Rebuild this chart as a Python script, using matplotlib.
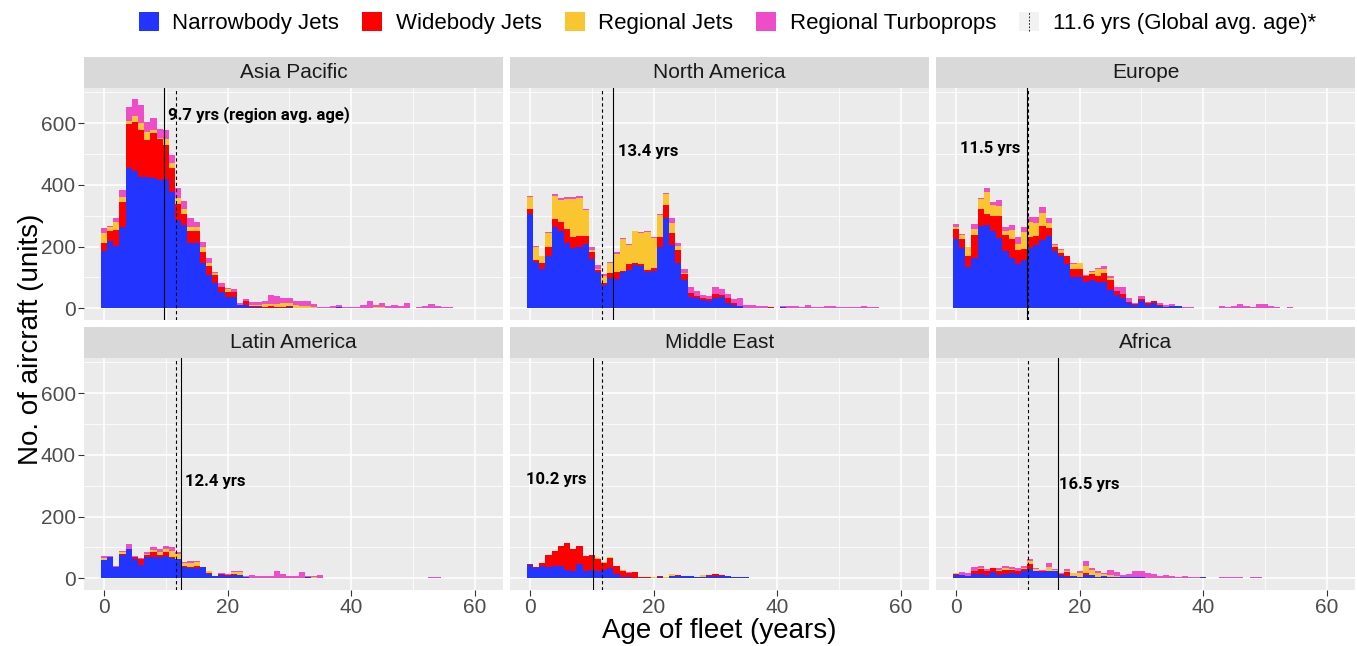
import numpy as np
import matplotlib.pyplot as plt
from matplotlib.patches import Rectangle, Patch
from matplotlib.lines import Line2D
from matplotlib.legend_handler import HandlerBase

plt.rcParams['font.family'] = ['Liberation Sans', 'DejaVu Sans']

# datos ---------------------------------------------------------------
regiones = ['Asia Pacific', 'North America', 'Europe',
            'Latin America', 'Middle East', 'Africa']
categorias = ['Narrowbody Jets', 'Widebody Jets', 'Regional Jets', 'Regional Turboprops']
colores = ['#2234FF', '#FF0000', '#F9C631', '#EE4CC9']
edad_region = [9.7, 13.4, 11.5, 12.4, 10.2, 16.5]
edad_global = 11.6
etiquetas = ['9.7 yrs (region avg. age)', '13.4 yrs', '11.5 yrs',
             '12.4 yrs', '10.2 yrs', '16.5 yrs']

# Asia Pacific
ap_narrow = [185, 218, 203, 265, 456, 445, 426, 426, 423, 416, 418, 378, 286, 270, 211, 211, 146, 108, 81, 54,
             36, 36, 11, 11, 3, 3, 2, 2, 2, 2, 3, 0, 0, 0, 0, 0, 0, 0, 3]
ap_wide = [26, 31, 51, 78, 141, 160, 152, 120, 145, 132, 110, 78, 51, 36, 41, 38, 38, 29, 27, 16,
           18, 18, 0, 13, 5, 5, 3, 5, 3, 3, 3]
ap_regjet = [32, 14, 27, 19, 11, 19, 24, 25, 10, 3, 21, 16, 20, 16, 13, 16, 14, 9, 6, 0,
             8, 0, 0, 0, 3, 3, 8, 8, 10, 12, 12, 10, 7, 7, 3, 0, 0, 0, 0, 0, 0, 0, 0, 0, 3, 5]
ap_turbo = [16, 4, 13, 22, 43, 54, 57, 33, 40, 30, 29, 25, 34, 26, 29, 16, 18, 16, 5, 11,
            5, 8, 5, 5, 8, 8, 12, 28, 25, 15, 14, 12, 15, 15, 10, 3, 3, 8, 8, 3,
            3, 3, 11, 25, 8, 11, 8, 11, 8, 16, 0, 3, 8, 13, 8, 3, 3]

# North America
na_narrow = [306, 151, 126, 168, 263, 252, 211, 195, 200, 209, 159, 119, 76, 97, 94, 116, 124, 141, 137, 119,
             122, 200, 292, 205, 146, 92, 38, 32, 27, 24, 32, 36, 16, 11, 8, 0, 0, 0, 0, 0, 0, 3]
na_wide = [15, 5, 20, 32, 26, 29, 45, 37, 35, 26, 25, 5, 5, 17, 22, 5, 20, 5, 7, 5,
           8, 32, 43, 38, 43, 19, 11, 8, 5, 5, 14, 7, 16, 5, 0, 0, 0, 0, 0, 5]
na_regjet = [41, 43, 22, 43, 75, 71, 98, 122, 124, 82, 5, 2, 22, 32, 60, 104, 61, 103, 101, 122,
             99, 71, 35, 35, 14, 3]
na_turbo = [2, 4, 3, 5, 6, 4, 6, 6, 5, 4, 11, 15, 7, 5, 5, 4, 4, 3, 3, 3,
            3, 3, 3, 14, 8, 14, 19, 16, 11, 12, 22, 19, 13, 13, 24, 11, 11, 8, 8, 0,
            0, 5, 8, 8, 3, 11, 3, 3, 8, 8, 3, 3, 3, 3, 8, 3, 3]

# Europe
eu_narrow = [225, 195, 135, 162, 268, 270, 252, 227, 187, 162, 143, 157, 195, 205, 222, 235, 187, 168, 143, 101,
             101, 84, 92, 86, 84, 59, 43, 32, 16, 11, 24, 11, 16, 8, 5, 8, 8]
eu_wide = [31, 30, 36, 74, 54, 36, 48, 73, 49, 63, 46, 35, 37, 29, 45, 24, 13, 12, 25, 26,
           26, 19, 19, 17, 30, 33, 13, 14, 3, 2, 5, 5, 8, 3]
eu_regjet = [9, 11, 26, 21, 32, 72, 35, 30, 15, 29, 19, 54, 49, 44, 43, 19, 5, 8, 0, 17,
             19, 2, 8, 24, 13, 5, 0, 0, 0, 0, 0, 0, 0, 0, 0, 0, 0, 0, 0, 0,
             0, 0, 0, 0, 0, 0, 2, 2]
eu_turbo = [7, 4, 3, 16, 3, 11, 11, 21, 14, 16, 22, 19, 16, 17, 18, 16, 3, 3, 3, 2,
            0, 3, 2, 3, 10, 8, 14, 22, 13, 3, 11, 3, 0, 7, 6, 5, 0, 3, 3, 0,
            0, 0, 0, 8, 3, 8, 11, 6, 3, 13, 13, 8, 3, 0, 3]

# Latin America
la_narrow = [60, 68, 36, 74, 96, 63, 43, 68, 68, 68, 72, 65, 63, 38, 33, 33, 36, 14, 7, 11,
             9, 11, 11, 3, 0, 0, 0, 0, 0, 0, 0, 0, 0, 3, 2, 0, 0, 0, 2, 2]
la_wide = [0, 0, 0, 4, 0, 5, 20, 8, 17, 8, 13, 3, 0, 3, 3, 8, 0, 2, 2, 3,
           2, 3, 0, 0, 2]
la_regjet = [5, 0, 0, 6, 0, 0, 0, 4, 7, 9, 11, 19, 16, 8, 14, 11, 0, 6, 0, 0,
             0, 6, 9, 2, 0, 0, 0, 0, 0, 0, 0, 0, 0, 0, 3]
la_turbo = [6, 4, 3, 6, 15, 4, 2, 5, 9, 11, 8, 14, 6, 5, 7, 5, 2, 2, 0, 2,
            3, 5, 2, 4, 9, 7, 9, 9, 22, 14, 7, 7, 20, 6, 2, 12, 2, 2, 0, 0,
            2, 2, 2, 2, 2, 2, 2, 2, 2, 2, 2, 0, 0, 5, 5, 2]

# Middle East
me_narrow = [43, 33, 39, 36, 39, 41, 27, 23, 47, 25, 28, 22, 28, 33, 14, 3, 3, 2, 0, 0,
             0, 3, 0, 9, 9, 7, 7, 3, 5, 9, 9, 7, 7, 5, 3, 3, 2, 2, 2, 2]
me_wide = [3, 3, 10, 38, 49, 65, 87, 73, 59, 47, 48, 41, 22, 33, 25, 19, 14, 18, 3, 3,
           2, 6, 0, 0, 2, 2, 2, 0, 0, 2, 4, 3]
me_regjet = [0, 0, 0, 0, 0, 0, 0, 0, 0, 0, 0, 2, 2, 2, 2, 6, 0, 0, 0, 0,
             3, 0, 3, 4, 1, 0, 0, 2, 6]
me_turbo = [0, 0, 0, 0, 0, 0, 0, 0, 0, 0, 0, 1, 0, 0, 0, 0, 2]

# Africa
af_narrow = [11, 11, 7, 14, 14, 11, 20, 11, 14, 17, 14, 25, 30, 22, 20, 22, 22, 11, 7, 7,
             3, 12, 12, 3, 9, 5, 5, 3, 3, 3, 3, 0, 0, 0, 0, 0, 0, 0, 0, 0, 3]
af_wide = [3, 0, 2, 11, 16, 14, 13, 14, 14, 10, 8, 5, 17, 3, 3, 3, 3, 3, 13, 0,
           0, 4]
af_regjet = [2, 0, 0, 0, 2, 0, 0, 2, 6, 3, 3, 4, 8, 5, 2, 11, 3, 0, 5, 9,
             14, 25, 16, 13, 5, 7, 4]
af_turbo = [0, 9, 7, 13, 9, 5, 1, 5, 7, 6, 8, 5, 8, 3, 3, 13, 2, 3, 5, 0,
            6, 14, 5, 9, 2, 15, 11, 9, 11, 19, 19, 16, 14, 9, 12, 7, 5, 7, 3, 3,
            2, 2, 0, 3, 3, 5, 3, 0, 3, 3]

series = [[ap_narrow, ap_wide, ap_regjet, ap_turbo],
          [na_narrow, na_wide, na_regjet, na_turbo],
          [eu_narrow, eu_wide, eu_regjet, eu_turbo],
          [la_narrow, la_wide, la_regjet, la_turbo],
          [me_narrow, me_wide, me_regjet, me_turbo],
          [af_narrow, af_wide, af_regjet, af_turbo]]

# posicion de las etiquetas (desplazamiento en x, altura y, alineacion)
pos_etiqueta = [(0.6, 628, 'left'), (0.8, 509, 'left'), (-1.1, 518, 'right'),
                (0.7, 315, 'left'), (-1.0, 321, 'right'), (0.2, 305, 'left')]

N = 60
edades = np.arange(N)


def rellenar(v):
    a = np.zeros(N)
    a[:len(v)] = v
    return a


# figura ----------------------------------------------------------------
W, H = 1357, 646
fig = plt.figure(figsize=(W / 100, H / 100), dpi=100)
fig.patch.set_facecolor('white')

col_izq = [84, 510, 936]
ancho = 419
fila_arriba = [88, 358]
alto = 232
alto_tira = 31

for i, region in enumerate(regiones):
    fila = i // 3
    col = i % 3
    x0 = col_izq[col]
    y0 = fila_arriba[fila]
    ax = fig.add_axes([x0 / W, (H - y0 - alto) / H, ancho / W, alto / H])
    ax.set_facecolor('#EBEBEB')
    for s in ax.spines.values():
        s.set_visible(False)

    base = np.zeros(N)
    for k in range(4):
        v = rellenar(series[i][k])
        ax.bar(edades, v, width=1.0, bottom=base, color=colores[k], linewidth=0, zorder=3)
        base = base + v

    ax.axvline(edad_global, color='black', ls=(0, (3, 2.5)), lw=0.8, zorder=4)
    ax.axvline(edad_region[i], color='black', lw=0.8, zorder=4)
    dx, yy, al = pos_etiqueta[i]
    ax.text(edad_region[i] + dx, yy, etiquetas[i], ha=al, va='center',
            fontsize=12, fontweight='bold', family='Roboto', color='black', zorder=5)

    ax.set_xlim(-3.24, 64.56)
    ax.set_ylim(-38, 714)
    ax.set_xticks([0, 20, 40, 60])
    ax.set_xticks([10, 30, 50], minor=True)
    ax.set_yticks([0, 200, 400, 600])
    ax.set_yticks([100, 300, 500, 700], minor=True)
    ax.grid(which='major', color='white', lw=1.1, zorder=0)
    ax.grid(which='minor', color='white', lw=0.55, zorder=0)
    ax.set_axisbelow(True)
    ax.tick_params(which='minor', length=0)
    ax.tick_params(which='major', length=4, color='#333333', width=0.8,
                   labelsize=15, labelcolor='#4D4D4D', pad=2)
    if fila == 0:
        ax.tick_params(axis='x', length=0, labelbottom=False)
    if col != 0:
        ax.tick_params(axis='y', length=0, labelleft=False)

    # tira con el nombre de la region
    tira = fig.add_axes([x0 / W, (H - y0) / H, ancho / W, alto_tira / H])
    tira.set_facecolor('#D9D9D9')
    tira.set_xticks([])
    tira.set_yticks([])
    for s in tira.spines.values():
        s.set_visible(False)
    tira.text(0.5, 0.5, region, ha='center', va='center', fontsize=15,
              color='#1A1A1A', transform=tira.transAxes)

fig.text(0.5 * (84 + 1355) / W, 1 - 631 / H, 'Age of fleet (years)', ha='center', va='center',
         fontsize=20)
fig.text(31 / W, 1 - 339 / H, 'No. of aircraft (units)', ha='center', va='center',
         rotation=90, fontsize=20)


# leyenda
class ClaveGlobal(HandlerBase):
    def create_artists(self, legend, orig, xd, yd, w, h, fs, trans):
        fondo = Rectangle((-xd, -yd), w, h, facecolor='#F2F2F2', edgecolor='none', transform=trans)
        linea = Line2D([-xd + w / 2] * 2, [-yd, -yd + h], color='black', ls=(0, (2, 2)),
                       lw=0.6, transform=trans)
        return [fondo, linea]


manijas = [Patch(facecolor=c, edgecolor='none') for c in colores]
manijas.append(Line2D([], []))
nombres = categorias + ['%.1f yrs (Global avg. age)*' % edad_global]
fig.legend(manijas, nombres, loc='center', bbox_to_anchor=(0.536, 1 - 23 / H), ncol=5,
           frameon=False, fontsize=16, handlelength=0.9, handleheight=0.9,
           handletextpad=0.6, columnspacing=1.05,
           handler_map={manijas[-1]: ClaveGlobal()})

fig.savefig('out.png', dpi=100)
